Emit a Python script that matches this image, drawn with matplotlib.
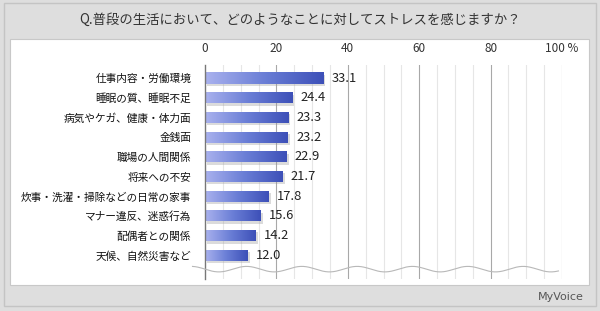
import numpy as np
import matplotlib.pyplot as plt
from matplotlib.patches import Rectangle
from matplotlib.colors import LinearSegmentedColormap

plt.rcParams['font.family'] = ['Noto Sans CJK JP', 'DejaVu Sans']

title = "Q.普段の生活において、どのようなことに対してストレスを感じますか？"
categories = ["仕事内容・労働環境", "睡眠の質、睡眠不足", "病気やケガ、健康・体力面", "金銭面",
              "職場の人間関係", "将来への不安", "炊事・洗濯・掃除などの日常の家事",
              "マナー違反、迷惑行為", "配偶者との関係", "天候、自然災害など"]
values = [33.1, 24.4, 23.3, 23.2, 22.9, 21.7, 17.8, 15.6, 14.2, 12.0]
ticks = [0, 20, 40, 60, 80, 100]
tick_labels = ["0", "20", "40", "60", "80", "100 %"]

W, H = 600, 311
fig = plt.figure(figsize=(6, 3.11), dpi=100)
fig.patch.set_facecolor('#dedede')

# outer frame and white panel
fig.patches.append(Rectangle((4 / W, 1 - 306 / H), 592 / W, 303 / H, transform=fig.transFigure,
                             facecolor='none', edgecolor='#c4c4c4', lw=1, zorder=-10))
fig.patches.append(Rectangle((10 / W, 1 - 285 / H), 579 / W, 246 / H, transform=fig.transFigure,
                             facecolor='white', edgecolor='#c8c8c8', lw=0.8, zorder=-10))
fig.text(0.5, 1 - 20 / H, title, ha='center', va='center', fontsize=9.6, color='#333333')
fig.text(584 / W, 1 - 297 / H, "MyVoice", ha='right', va='center', fontsize=8,
         color='#555555', family='DejaVu Sans')

ax = fig.add_axes([205 / W, 1 - 279 / H, 357 / W, 214 / H])
ax.set_facecolor('none')
y = np.arange(len(categories))

for x in range(5, 100, 5):
    ax.axvline(x, color='#a8a8a8' if x % 20 == 0 else '#e6e6e6', lw=0.8, zorder=0)
ax.axvline(100, color='#a8a8a8', lw=0.8, zorder=0)

cmap = LinearSegmentedColormap.from_list('g', ['#aab2ee', '#6a7ed6', '#3d50b8'])
grad = np.linspace(0, 1, 256).reshape(1, -1)
bh = 0.56
# shadow
ax.barh(y + 0.12, values, height=bh, left=0.6, color='#999999', alpha=0.35, zorder=1)
bars = ax.barh(y, values, height=bh, color='none', zorder=2)
for b in bars:
    x0, y0 = b.get_x(), b.get_y()
    im = ax.imshow(grad, cmap=cmap, aspect='auto', extent=[x0, x0 + b.get_width(), y0 + b.get_height(), y0],
                   zorder=2, interpolation='bicubic')
    im.set_clip_path(b)
ax.set_xlim(0, 100)
ax.set_ylim(9 + 1.2, -0.66)

for yi, v in zip(y, values):
    ax.text(v + 2.3, yi, f"{v:.1f}", va='center', ha='left', fontsize=9.3, color='#222222', zorder=3)

# wavy break line
wx = np.linspace(-3.5, 99, 400)
wy = 9.7 + 0.14 * np.sin(wx / 15.5 * 2 * np.pi)
ax.plot(wx, wy, color='#b8b8b8', lw=0.8, clip_on=False, zorder=3)

ax.set_xticks(ticks)
ax.set_xticklabels(tick_labels)
ax.xaxis.tick_top()
ax.tick_params(axis='x', length=0, pad=7, labelsize=8.5, labelcolor='#333333')
ax.set_yticks(y)
ax.set_yticklabels(categories)
ax.tick_params(axis='y', length=0, pad=10, labelsize=7.7, labelcolor='#111111')
for s in ['top', 'right', 'bottom']:
    ax.spines[s].set_visible(False)
ax.spines['left'].set_color('#777777')
ax.spines['left'].set_linewidth(1)

fig.savefig('out.png', dpi=100)
